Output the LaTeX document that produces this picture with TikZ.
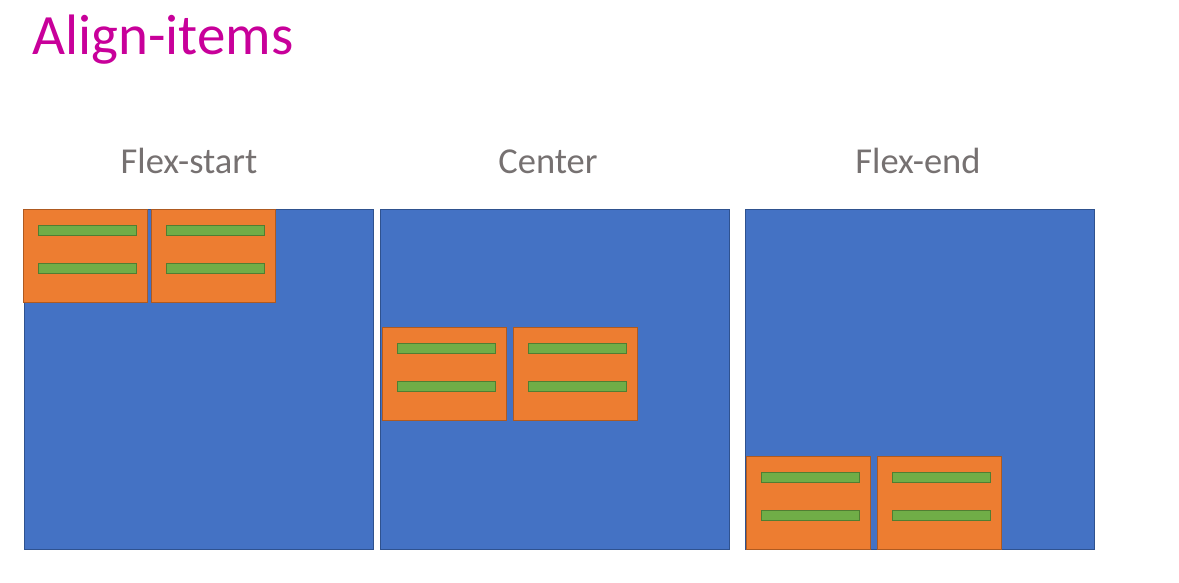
\documentclass[tikz,border=0pt]{standalone}
\usepackage{fontspec}
\setmainfont{Carlito}
\definecolor{cblue}{HTML}{4472C4}
\definecolor{cblueb}{HTML}{2F528F}
\definecolor{corange}{HTML}{ED7D31}
\definecolor{coranb}{HTML}{AE5A21}
\definecolor{cgreen}{HTML}{70AD47}
\definecolor{cgreenb}{HTML}{507E32}
\definecolor{ctitle}{HTML}{C8009A}
\definecolor{clabel}{HTML}{767171}
\tikzset{
  container/.style={draw=cblueb, fill=cblue, line width=0.8pt, anchor=north west, minimum width=349pt, minimum height=340pt, inner sep=0pt, outer sep=0pt},
  item/.style={draw=coranb, fill=corange, line width=1pt, anchor=north west, minimum width=124pt, minimum height=93pt, inner sep=0pt, outer sep=0pt},
  bar/.style={draw=cgreenb, fill=cgreen, line width=1pt, anchor=north west, minimum width=98pt, minimum height=10pt, inner sep=0pt, outer sep=0pt},
  label/.style={text=clabel, font=\fontsize{36.5}{44}\selectfont, anchor=base, inner sep=0pt},
}
\begin{document}
\begin{tikzpicture}[x=1pt, y=-1pt]
\useasboundingbox (0,0) rectangle (1179,582);
\node[text=ctitle, font=\fontsize{57}{68}\selectfont, anchor=base west, inner sep=0pt] (title) at (32,54) {Align-items};
\node[label] (l1) at (189,173) {Flex-start};
\node[label] (l2) at (548,173) {Center};
\node[label] (l3) at (918,173) {Flex-end};
\node[container] (c1) at (24,209) {};
\node[container] (c2) at (380,209) {};
\node[container] (c3) at (745,209) {};
% items
\foreach \n/\x/\y in {a/23.5/209.5, b/151.5/209.5, c/382.5/327.5, d/513.5/327.5, e/746.5/456.5, f/877.5/456.5}{
  \node[item] (i\n) at (\x,\y) {};
  \node[bar] (i\n top) at ([xshift=15pt, yshift=-16pt]i\n.north west) {};
  \node[bar] (i\n bot) at ([xshift=15pt, yshift=-54pt]i\n.north west) {};
}
\end{tikzpicture}
\end{document}
